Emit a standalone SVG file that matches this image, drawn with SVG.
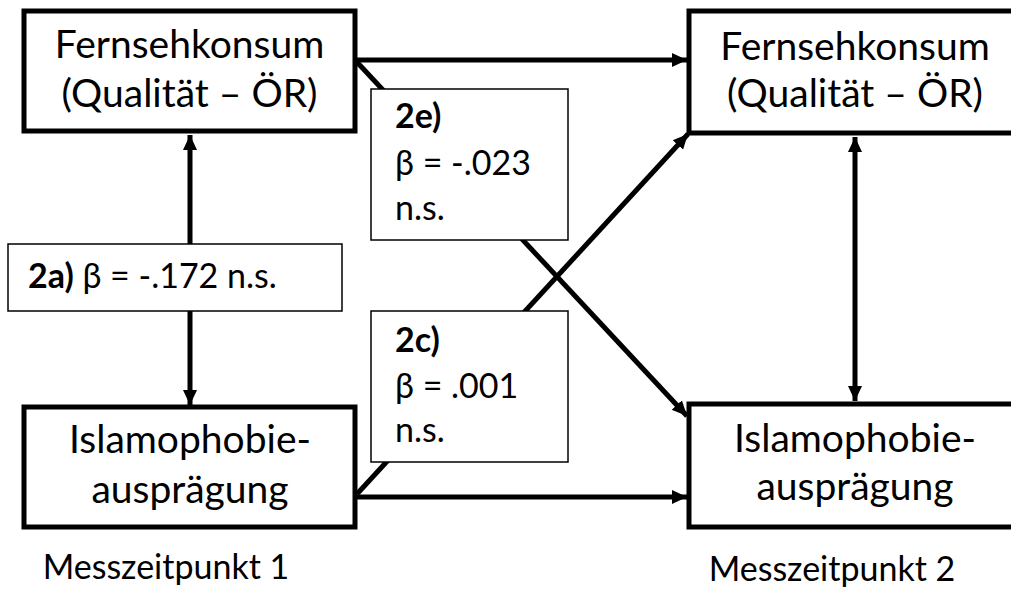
<svg xmlns="http://www.w3.org/2000/svg" width="1011" height="593" viewBox="0 0 1011 593">
<defs>
<style>
.node{fill:#fff;stroke:#000;stroke-width:5}
.lab{fill:#fff;stroke:#000;stroke-width:1.5}
.t{font-family:Lato,"Open Sans",sans-serif;fill:#000}
.big{font-size:39px}
.mid{font-size:34px}
.c{text-anchor:middle}
.con{stroke:#000;stroke-width:5;fill:none}
</style>
<marker id="ah" markerUnits="userSpaceOnUse" markerWidth="16" markerHeight="16" viewBox="0 0 16 16" refX="15" refY="8" orient="auto-start-reverse">
<path d="M0,1 L15,8 L0,15 Z" fill="#000"/>
</marker>
</defs>
<rect width="1011" height="593" fill="#fff"/>
<g id="connectors">
<line class="con" x1="355" y1="60" x2="687" y2="60" marker-end="url(#ah)"/>
<line class="con" x1="355" y1="497" x2="687" y2="497" marker-end="url(#ah)"/>
<line class="con" x1="355" y1="60" x2="687" y2="416" marker-end="url(#ah)"/>
<line class="con" x1="357" y1="494" x2="688" y2="134" marker-end="url(#ah)"/>
<line class="con" x1="190" y1="135" x2="190" y2="405" marker-start="url(#ah)" marker-end="url(#ah)"/>
<line class="con" x1="855" y1="137" x2="855" y2="401" marker-start="url(#ah)" marker-end="url(#ah)"/>
</g>
<g id="tv1">
<rect class="node" x="24" y="11" width="331" height="120"/>
<text class="t big c" x="189.5" y="58">Fernsehkonsum</text>
<text class="t big c" x="189.5" y="107">(Qualität – ÖR)</text>
</g>
<g id="tv2">
<rect class="node" x="689" y="11" width="332" height="122"/>
<text class="t big c" x="855" y="60">Fernsehkonsum</text>
<text class="t big c" x="855" y="107">(Qualität – ÖR)</text>
</g>
<g id="isl1">
<rect class="node" x="24" y="407" width="331" height="120"/>
<text class="t big c" x="190" y="453">Islamophobie-</text>
<text class="t big c" x="190" y="503">ausprägung</text>
</g>
<g id="isl2">
<rect class="node" x="689" y="404" width="332" height="123"/>
<text class="t big c" x="855" y="452">Islamophobie-</text>
<text class="t big c" x="855" y="500">ausprägung</text>
</g>
<g id="label2a">
<rect class="lab" x="8" y="244" width="334" height="67"/>
<text class="t mid" x="28" y="288"><tspan font-weight="bold">2a)</tspan> β = -.172 n.s.</text>
</g>
<g id="label2e">
<rect class="lab" x="371" y="89" width="197" height="151"/>
<text class="t mid" x="395" y="128" font-weight="bold">2e)</text>
<text class="t mid" x="395" y="175">β = -.023</text>
<text class="t mid" x="395" y="220">n.s.</text>
</g>
<g id="label2c">
<rect class="lab" x="371" y="311" width="197" height="151"/>
<text class="t mid" x="395" y="352" font-weight="bold">2c)</text>
<text class="t mid" x="395" y="398">β = .001</text>
<text class="t mid" x="395" y="442">n.s.</text>
</g>
<g id="time1">
<text class="t mid c" x="166" y="579">Messzeitpunkt 1</text>
</g>
<g id="time2">
<text class="t mid c" x="832" y="581">Messzeitpunkt 2</text>
</g>
</svg>
